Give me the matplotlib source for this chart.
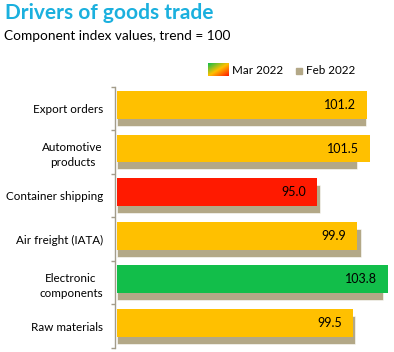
import numpy as np
import matplotlib
matplotlib.use("Agg")
import matplotlib.pyplot as plt
from matplotlib.colors import LinearSegmentedColormap
from matplotlib.patches import Rectangle

# Chart data
categories = ["Export orders", "Automotive\nproducts", "Container shipping",
              "Air freight (IATA)", "Electronic\ncomponents", "Raw materials"]
mar_2022 = [101.2, 101.5, 95.0, 99.9, 103.8, 99.5]
feb_2022 = [101.1, 99.9, 95.3, 100.4, 103.2, 99.7]
mar_colors = ["#FFC000", "#FFC000", "#FF1A00", "#FFC000", "#12BE4A", "#FFC000"]
feb_color = "#B3A887"
axis_color = "#A39C8A"
base = 70

plt.rcParams['font.family'] = ['Lato', 'DejaVu Sans']

W, H = 394, 352
fig = plt.figure(figsize=(W / 100, H / 100), dpi=100)
ax = fig.add_axes([114.7 / W, 1 - 348 / H, (392 - 114.7) / W, (348 - 86.7) / H])

y = np.arange(len(categories))
mar_w = np.array(mar_2022) - base
feb_w = np.array(feb_2022) - base

# Feb bars sit behind like a shadow, Mar bars on top
ax.barh(y + 0.08, feb_w, left=base, height=0.64, color=feb_color,
        edgecolor="white", linewidth=0.4, zorder=1)
ax.barh(y - 0.08, mar_w, left=base, height=0.64, color=mar_colors, zorder=2)

for yi, v in zip(y, mar_2022):
    ax.annotate(f"{v:.1f}", xy=(v, yi - 0.08), xytext=(-11, 0),
                textcoords="offset pixels", ha="right", va="center",
                fontsize=9, color="black", zorder=3)

ax.set_xlim(69.75, 104.3)
ax.set_ylim(len(categories) - 0.5, -0.5)

for s in ["top", "right", "bottom"]:
    ax.spines[s].set_visible(False)
ax.spines["left"].set_color(axis_color)
ax.spines["left"].set_linewidth(1.0)
ax.set_xticks([])

ax.set_yticks(y)
ax.set_yticklabels(categories, fontsize=8.4)
ax.set_yticks(np.arange(len(categories) + 1) - 0.5, minor=True)
ax.tick_params(axis="y", which="major", length=0, pad=8.5)
ax.tick_params(axis="y", which="minor", length=3, color=axis_color, width=1.0)
for t in ax.get_yticklabels():
    t.set_multialignment("center")
    t.set_linespacing(1.45)

# Titles
fig.text(5 / W, 1 - 3 / H, "Drivers of goods trade", fontsize=15, fontweight="bold",
         color="#1BB0DE", ha="left", va="top")
fig.text(4 / W, 1 - 30 / H, "Component index values, trend = 100", fontsize=9.8,
         color="black", ha="left", va="top")

# Legend: gradient swatch for Mar 2022, tan square for Feb 2022
grad_cmap = LinearSegmentedColormap.from_list("grad", ["#12BE4A", "#FFC000", "#FF1A00"])
gx = fig.add_axes([208 / W, 1 - 76 / H, 20 / W, 13 / H])
xx, yy = np.meshgrid(np.linspace(0, 1, 40), np.linspace(0, 1, 26))
gx.imshow((xx + yy) / 2, cmap=grad_cmap, aspect="auto", origin="upper")
gx.axis("off")
fig.text(232 / W, 1 - 70 / H, "Mar 2022", fontsize=8.4, ha="left", va="center")
fig.patches.append(Rectangle((296 / W, 1 - 74 / H), 6 / W, 6 / H,
                             transform=fig.transFigure, color=feb_color))
fig.text(306 / W, 1 - 70 / H, "Feb 2022", fontsize=8.4, ha="left", va="center")

fig.savefig("out.png", dpi=100)
